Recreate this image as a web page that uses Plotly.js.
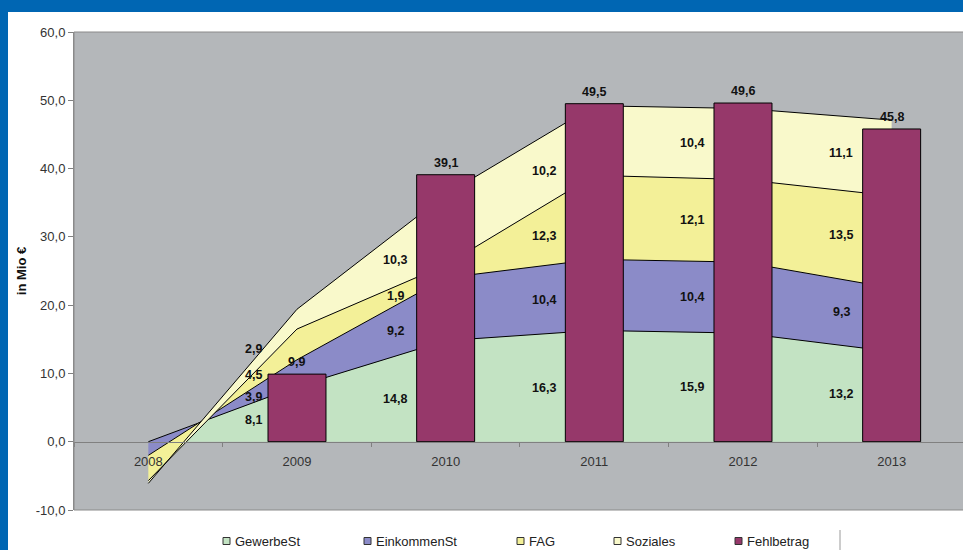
<!DOCTYPE html>
<html>
<head>
<meta charset="utf-8">
<script src="https://cdn.plot.ly/plotly-3.0.1.min.js"></script>
<style>
  html, body { margin: 0; padding: 0; background: #ffffff; overflow: hidden; }
  #wrap { position: relative; width: 963px; height: 550px; }
  #chart { position: absolute; left: 0; top: 0; width: 963px; height: 550px; }
  .band { position: absolute; background: #0066b3; z-index: 5; }
</style>
</head>
<body>
<div id="wrap">
  <div id="chart"></div>
  <div class="band" style="left:0;top:0;width:963px;height:12px;"></div>
  <div class="band" style="left:0;top:0;width:8px;height:550px;"></div>
</div>
<script>
// ---- data ----
const categories = ['2008', '2009', '2010', '2011', '2012', '2013'];
const gewerbeSt   = [0.0, 8.1, 14.8, 16.3, 15.9, 13.2];
const einkommenSt = [-2.0, 3.9, 9.2, 10.4, 10.4, 9.3];
const fag         = [-3.7, 4.5, 1.9, 12.3, 12.1, 13.5];
const soziales    = [-0.4, 2.9, 10.3, 10.2, 10.4, 11.1];
const fehlbetrag  = [null, 9.9, 39.1, 49.5, 49.6, 45.8];
const seriesNames = ['GewerbeSt', 'EinkommenSt', 'FAG', 'Soziales', 'Fehlbetrag'];
const yTickValues = [-10, 0, 10, 20, 30, 40, 50, 60];
const yAxisTitle = 'in Mio €';

// ---- styles ----
const colors = ['#c3e3c3', '#8b8bc8', '#f3f098', '#f9f9cb', '#96386a'];
const W = 963, H = 550;
const M = { l: 74, r: 0, t: 32, b: 40 };
const plotW = W - M.l - M.r, plotH = H - M.t - M.b;
const yMin = yTickValues[0], yMax = yTickValues[yTickValues.length - 1];
const xRange = [-0.5, 5.48];
const fontFam = '"Liberation Sans", Arial, sans-serif';
const labelOffset = 0.34;           // label x offset (categories) left of the point
const firstLabelShift = { x: 7, y: [3, 2, 11, 26] }; // manual spread for first labelled year

const fmt = v => v.toFixed(1).replace('.', ',');
const pxX = px => (px - M.l) / plotW;
const pxY = py => (H - M.b - py) / plotH;

const areaSeries = [gewerbeSt, einkommenSt, fag, soziales];

const traces = areaSeries.map((vals, k) => ({
  type: 'scatter',
  mode: 'lines',
  name: seriesNames[k],
  x: categories,
  y: vals,
  stackgroup: 'areas',
  line: { color: '#000000', width: 1 },
  fillcolor: colors[k],
  hoverinfo: 'skip',
  showlegend: false
}));

traces.push({
  type: 'bar',
  name: seriesNames[4],
  x: categories,
  y: fehlbetrag,
  xaxis: 'x2',
  yaxis: 'y2',
  width: 0.39,
  marker: { color: colors[4], line: { color: '#000000', width: 1 } },
  hoverinfo: 'skip',
  showlegend: false
});

// cumulative stacks
const cum = [];
areaSeries.forEach((vals, k) => {
  cum.push(vals.map((v, i) => v + (k > 0 ? cum[k - 1][i] : 0)));
});

const labelFont = { family: fontFam, size: 12.5, color: '#111111', weight: 'bold' };
const annotations = [];
// area labels: middle of each band, slightly left of the category point
for (let i = 1; i < categories.length; i++) {
  const t = 1 - labelOffset;
  areaSeries.forEach((vals, k) => {
    const upPrev = cum[k][i - 1], upCur = cum[k][i];
    const loPrev = k > 0 ? cum[k - 1][i - 1] : 0, loCur = k > 0 ? cum[k - 1][i] : 0;
    const up = upPrev + (upCur - upPrev) * t;
    const lo = loPrev + (loCur - loPrev) * t;
    annotations.push({
      x: i - labelOffset, y: (up + lo) / 2, xref: 'x', yref: 'y',
      text: fmt(vals[i]), showarrow: false,
      xshift: i === 1 ? firstLabelShift.x : 0,
      yshift: i === 1 ? firstLabelShift.y[k] : 0,
      font: labelFont
    });
  });
}
// bar labels
fehlbetrag.forEach((v, i) => {
  if (v === null) return;
  annotations.push({
    x: i, y: v, xref: 'x', yref: 'y', yanchor: 'bottom',
    text: fmt(v), showarrow: false, yshift: 3,
    font: labelFont
  });
});

// manual legend
const legendSwatchPx = [223, 364, 517, 614, 735];
const legendYpx = 541;
const shapes = [];
seriesNames.forEach((name, k) => {
  const x0 = legendSwatchPx[k];
  shapes.push({
    type: 'rect', xref: 'paper', yref: 'paper',
    x0: pxX(x0), x1: pxX(x0 + 7), y0: pxY(legendYpx + 3.5), y1: pxY(legendYpx - 3.5),
    fillcolor: colors[k], line: { color: '#333333', width: 1 }
  });
  annotations.push({
    xref: 'paper', yref: 'paper', x: pxX(x0 + 10), y: pxY(legendYpx),
    xanchor: 'left', yanchor: 'middle', text: name, showarrow: false,
    font: { family: fontFam, size: 13, color: '#222222' }
  });
});
// legend separator tick
shapes.push({
  type: 'line', xref: 'paper', yref: 'paper',
  x0: pxX(840), x1: pxX(840), y0: pxY(530), y1: pxY(552),
  line: { color: '#9a9a9a', width: 1 }
});
// plot area border
shapes.push({
  type: 'rect', xref: 'paper', yref: 'paper', x0: 0, x1: 1.01, y0: 0, y1: 1,
  line: { color: '#8a8a8a', width: 1 }, layer: 'above'
});

const layout = {
  width: W, height: H,
  margin: M,
  paper_bgcolor: '#ffffff',
  plot_bgcolor: '#b4b7ba',
  separators: ',.',
  showlegend: false,
  font: { family: fontFam, size: 13, color: '#222222' },
  xaxis: {
    type: 'category', categoryorder: 'array', categoryarray: categories,
    range: xRange, anchor: 'free', position: (0 - yMin) / (yMax - yMin),
    showline: true, linecolor: '#808080', linewidth: 1,
    ticks: 'outside', tickson: 'boundaries', ticklen: 4, tickcolor: '#808080',
    ticklabelstandoff: 8,
    showgrid: false, zeroline: false,
    tickfont: { family: fontFam, size: 13, color: '#333333' },
    fixedrange: true
  },
  yaxis: {
    range: [yMin, yMax], tickvals: yTickValues, ticktext: yTickValues.map(fmt),
    showline: true, linecolor: '#8a8a8a', ticks: 'outside', ticklen: 5, tickcolor: '#808080',
    showgrid: false, zeroline: false,
    tickfont: { family: fontFam, size: 13, color: '#333333' },
    title: { text: yAxisTitle, standoff: 6, font: { family: fontFam, size: 13, color: '#111111', weight: 'bold' } },
    fixedrange: true
  },
  xaxis2: {
    type: 'category', categoryorder: 'array', categoryarray: categories,
    range: xRange, overlaying: 'x', visible: false, fixedrange: true
  },
  yaxis2: {
    range: [yMin, yMax], overlaying: 'y', visible: false, fixedrange: true
  },
  annotations: annotations,
  shapes: shapes
};

Plotly.newPlot('chart', traces, layout, { staticPlot: true, displayModeBar: false });
</script>
</body>
</html>
